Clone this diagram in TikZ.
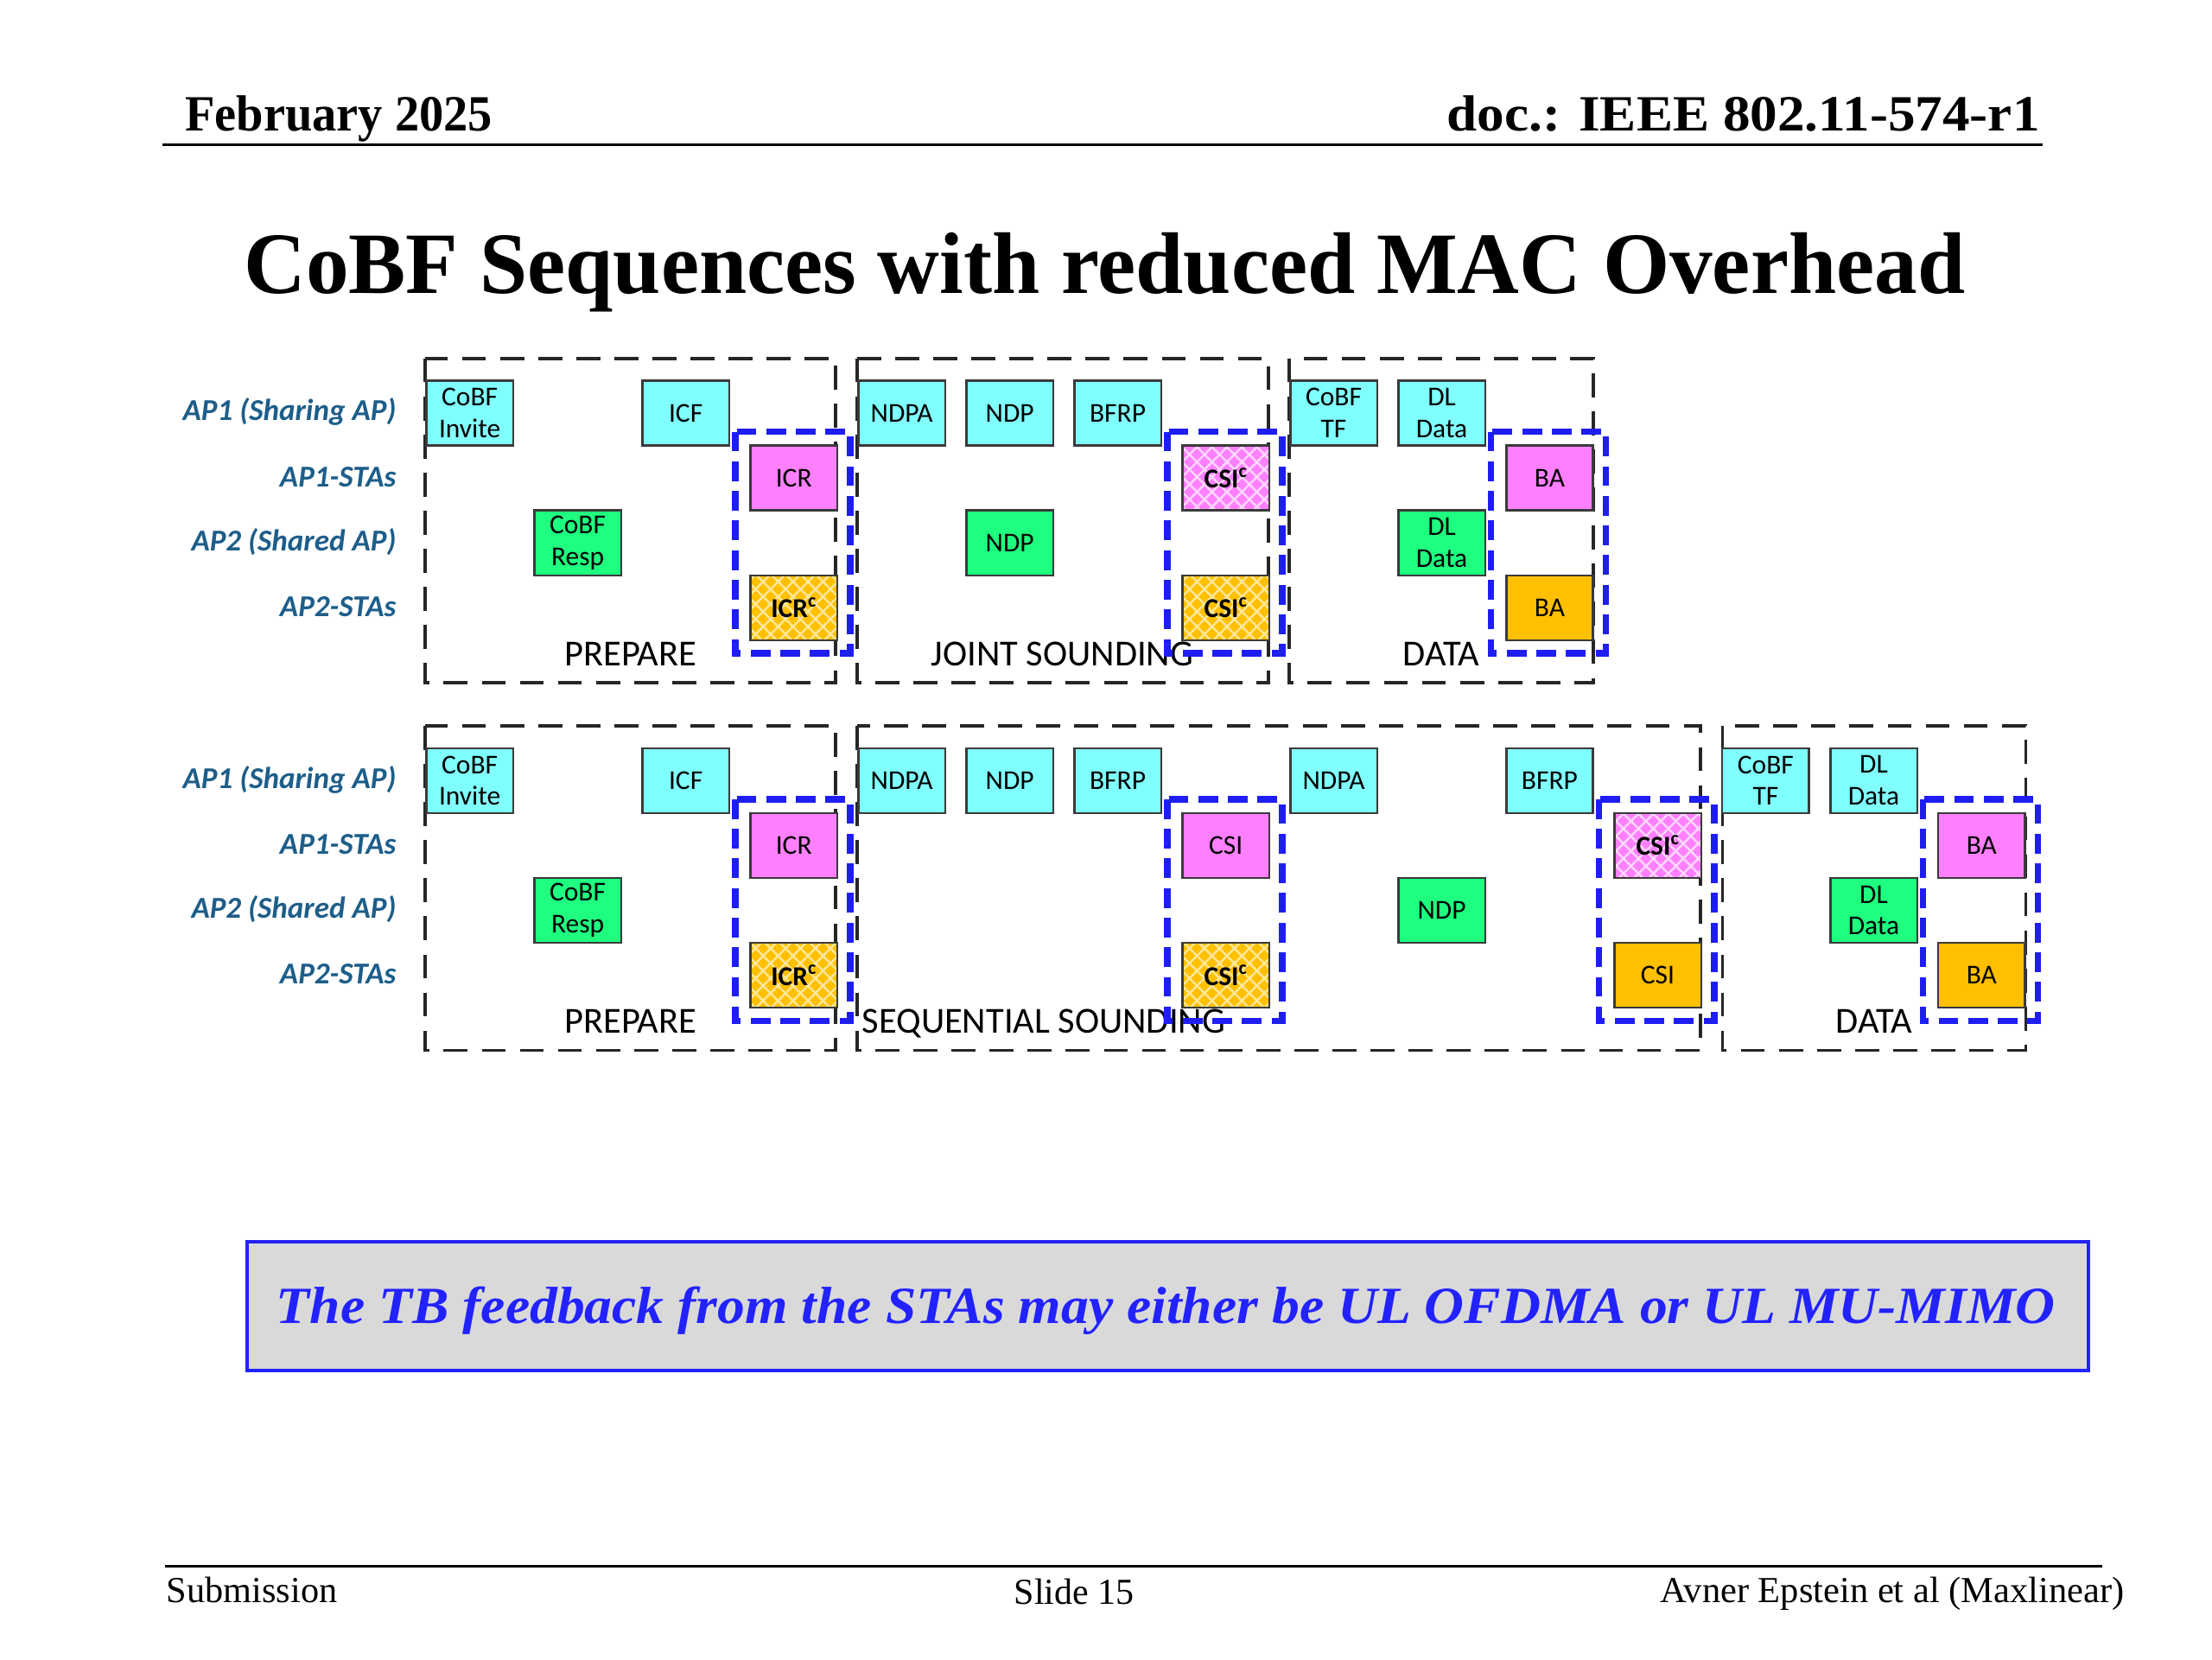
\documentclass[tikz,border=0pt]{standalone}
\usepackage{fontspec}
\usepackage{graphicx}
\setmainfont{Liberation Serif}
\newfontfamily\calib{Carlito}
\usetikzlibrary{patterns.meta}
\definecolor{pktcyan}{HTML}{80FFFF}
\definecolor{pktgreen}{HTML}{1EFF80}
\definecolor{pktpink}{HTML}{FF80FF}
\definecolor{pktorange}{HTML}{FFC000}
\definecolor{orangelt}{HTML}{FFE79A}
\definecolor{pinklt}{HTML}{FFD6FF}
\definecolor{labelblue}{HTML}{1D5E8A}
\definecolor{dashblue}{HTML}{1E1EF2}
\definecolor{notegray}{HTML}{D9D9D9}
\definecolor{noteblue}{HTML}{2222FF}
\definecolor{pktborder}{HTML}{3A3A3A}
\begin{document}
\begin{tikzpicture}[x=1pt,y=-1pt,
  pkt/.style={draw=pktborder, line width=1.5pt, minimum width=61.5pt, minimum height=46pt,
    inner sep=0pt, anchor=north west, align=center, font=\calib\fontsize{19.3}{22.5}\selectfont},
  hatchor/.style={pkt, preaction={fill=pktorange}, pattern={Hatch[angle=45,distance=7.5pt,line width=1.5pt]},
    pattern color=orangelt, font=\calib\bfseries\fontsize{19.3}{22.5}\selectfont},
  hatchpk/.style={pkt, preaction={fill=pktpink}, pattern={Hatch[angle=45,distance=7.5pt,line width=1.5pt]},
    pattern color=pinklt, font=\calib\bfseries\fontsize{19.3}{22.5}\selectfont},
  phase/.style={draw=black!85, line width=2.3pt, dash pattern=on 17pt off 10pt},
  grp/.style={draw=dashblue, line width=4.5pt, dash pattern=on 14pt off 7pt},
  lane/.style={anchor=east, inner sep=0pt, text=labelblue, font=\calib\bfseries\itshape\fontsize{21.5}{24}\selectfont},
  phaselbl/.style={anchor=base, inner sep=0pt, font=\calib\fontsize{26}{30}\selectfont},
]
\useasboundingbox (0,0) rectangle (1568,1176);
\fill[white] (0,0) rectangle (1568,1176);

% header
\node[anchor=base west, inner sep=0pt] (hdate) at (131,93) {\resizebox{218pt}{\height}{\fontsize{36}{40}\selectfont\bfseries February 2025}};
\node[anchor=base east, inner sep=0pt] (hdoc) at (1446,93) {\resizebox{420pt}{\height}{\fontsize{36}{40}\selectfont\bfseries doc.: IEEE 802.11-574-r1}};
\draw[line width=1.8pt] (115,102.5) -- (1448,102.5);

% title
\node[anchor=base, inner sep=0pt] (title) at (783,208) {\resizebox{1220pt}{\height}{\fontsize{62}{70}\selectfont\bfseries CoBF Sequences with reduced MAC Overhead}};

% lane labels
\node[lane] (ua1) at (281,292) {AP1 (Sharing AP)};
\node[lane] (ua1s) at (281,338) {AP1-STAs};
\node[lane] (ua2) at (281,384) {AP2 (Shared AP)};
\node[lane] (ua2s) at (281,430) {AP2-STAs};
\node[lane] (la1) at (281,552.5) {AP1 (Sharing AP)};
\node[lane] (la1s) at (281,598.5) {AP1-STAs};
\node[lane] (la2) at (281,644.5) {AP2 (Shared AP)};
\node[lane] (la2s) at (281,690.5) {AP2-STAs};

% phase boxes
\draw[phase] (301.5,254) rectangle (592.5,484);
\draw[phase] (607.5,254) rectangle (899,484);
\draw[phase] (914,254) rectangle (1129.5,484);
\draw[phase] (301.5,514.5) rectangle (592.5,744.5);
\draw[phase] (607.5,514.5) rectangle (1205.5,744.5);
\draw[phase] (1221,514.5) rectangle (1436,744.5);

% upper sequence
\node[pkt,fill=pktcyan] (u-invite) at (301.5,269) {CoBF\\Invite};
\node[pkt,fill=pktgreen] (u-resp) at (378,361) {CoBF\\Resp};
\node[pkt,fill=pktcyan] (u-icf) at (454.6,269) {ICF};
\node[pkt,fill=pktpink] (u-icr) at (531.2,315) {ICR};
\node[hatchor] (u-icrc) at (531.2,407) {ICR\textsuperscript{c}};
\node[pkt,fill=pktcyan] (u-ndpa) at (607.7,269) {NDPA};
\node[pkt,fill=pktcyan] (u-ndp) at (684.3,269) {NDP};
\node[pkt,fill=pktgreen] (u-ndp2) at (684.3,361) {NDP};
\node[pkt,fill=pktcyan] (u-bfrp) at (760.8,269) {BFRP};
\node[hatchpk] (u-csic1) at (837.4,315) {CSI\textsuperscript{c}};
\node[hatchor] (u-csic2) at (837.4,407) {CSI\textsuperscript{c}};
\node[pkt,fill=pktcyan] (u-tf) at (913.9,269) {CoBF\\TF};
\node[pkt,fill=pktcyan] (u-dl) at (990.5,269) {DL\\Data};
\node[pkt,fill=pktgreen] (u-dl2) at (990.5,361) {DL\\Data};
\node[pkt,fill=pktpink] (u-ba1) at (1067,315) {BA};
\node[pkt,fill=pktorange] (u-ba2) at (1067,407) {BA};

% lower sequence
\node[pkt,fill=pktcyan] (l-invite) at (301.5,529.5) {CoBF\\Invite};
\node[pkt,fill=pktgreen] (l-resp) at (378,621.5) {CoBF\\Resp};
\node[pkt,fill=pktcyan] (l-icf) at (454.6,529.5) {ICF};
\node[pkt,fill=pktpink] (l-icr) at (531.2,575.5) {ICR};
\node[hatchor] (l-icrc) at (531.2,667.5) {ICR\textsuperscript{c}};
\node[pkt,fill=pktcyan] (l-ndpa) at (607.7,529.5) {NDPA};
\node[pkt,fill=pktcyan] (l-ndp) at (684.3,529.5) {NDP};
\node[pkt,fill=pktcyan] (l-bfrp) at (760.8,529.5) {BFRP};
\node[pkt,fill=pktpink] (l-csi) at (837.4,575.5) {CSI};
\node[hatchor] (l-csic) at (837.4,667.5) {CSI\textsuperscript{c}};
\node[pkt,fill=pktcyan] (l-ndpa2) at (913.9,529.5) {NDPA};
\node[pkt,fill=pktgreen] (l-ndp2) at (990.5,621.5) {NDP};
\node[pkt,fill=pktcyan] (l-bfrp2) at (1067,529.5) {BFRP};
\node[hatchpk] (l-csic2) at (1143.6,575.5) {CSI\textsuperscript{c}};
\node[pkt,fill=pktorange] (l-csi2) at (1143.6,667.5) {CSI};
\node[pkt,fill=pktcyan] (l-tf) at (1220.1,529.5) {CoBF\\TF};
\node[pkt,fill=pktcyan] (l-dl) at (1296.7,529.5) {DL\\Data};
\node[pkt,fill=pktgreen] (l-dl2) at (1296.7,621.5) {DL\\Data};
\node[pkt,fill=pktpink] (l-ba1) at (1373.2,575.5) {BA};
\node[pkt,fill=pktorange] (l-ba2) at (1373.2,667.5) {BA};

% phase labels
\node[phaselbl] (u-prep) at (447,472) {PREPARE};
\node[phaselbl] (u-joint) at (753,472) {JOINT SOUNDING};
\node[phaselbl] (u-data) at (1021.7,472) {DATA};
\node[phaselbl] (l-prep) at (447,732.5) {PREPARE};
\node[phaselbl, anchor=base west] (l-seq) at (611,732.5) {SEQUENTIAL SOUNDING};
\node[phaselbl] (l-data) at (1328.5,732.5) {DATA};

% blue groups
\draw[grp] (521.2,306) rectangle (602.7,463);
\draw[grp] (827.4,306) rectangle (908.9,463);
\draw[grp] (1057,306) rectangle (1138.5,463);
\draw[grp] (521.2,566.5) rectangle (602.7,723.5);
\draw[grp] (827.4,566.5) rectangle (908.9,723.5);
\draw[grp] (1133.6,566.5) rectangle (1215.1,723.5);
\draw[grp] (1363.2,566.5) rectangle (1444.7,723.5);

% note box
\node[draw=noteblue, fill=notegray, line width=2.5pt, minimum width=1305pt, minimum height=91pt,
  anchor=north west, inner sep=0pt] (notebox) at (174,879) {};
\node[anchor=base, inner sep=0pt, text=noteblue] (note) at (826.5,938)
  {\resizebox{1261pt}{\height}{\fontsize{37}{42}\selectfont\bfseries\itshape The TB feedback from the STAs may either be UL OFDMA or UL MU-MIMO}};

% footer
\draw[line width=1.8pt] (117,1110) -- (1490,1110);
\node[anchor=base west, inner sep=0pt] (fsub) at (118,1136) {\resizebox{121pt}{\height}{\fontsize{26}{30}\selectfont Submission}};
\node[anchor=base, inner sep=0pt] (fslide) at (761.5,1137) {\resizebox{85pt}{\height}{\fontsize{26}{30}\selectfont Slide 15}};
\node[anchor=base east, inner sep=0pt] (fauth) at (1506,1136) {\resizebox{329pt}{\height}{\fontsize{26}{30}\selectfont Avner Epstein et al (Maxlinear)}};
\end{tikzpicture}
\end{document}
